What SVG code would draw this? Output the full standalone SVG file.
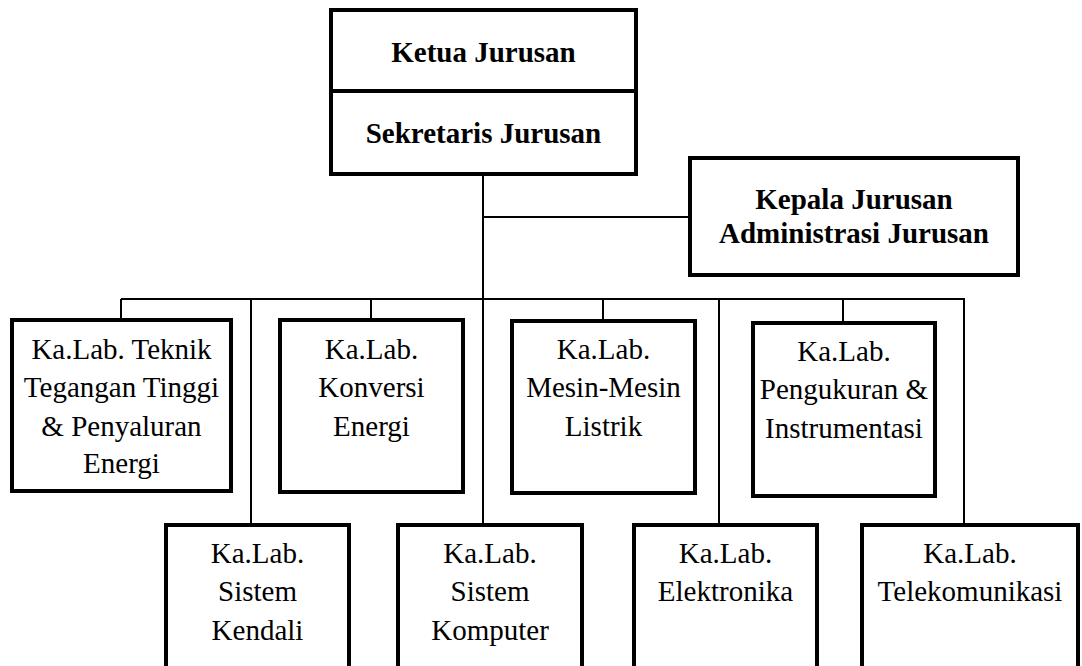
<svg xmlns="http://www.w3.org/2000/svg" width="1082" height="666" viewBox="0 0 1082 666">
<style>
.box{fill:#fff;stroke:#000;stroke-width:4}
.c{fill:none;stroke:#000;stroke-width:2}
.t{font-family:'Liberation Serif',Tinos,'DejaVu Serif',serif;font-size:29px;fill:#000;text-anchor:middle}
.b{font-weight:bold}
</style>
<rect width="1082" height="666" fill="#fff"/>
<g id="connectors">
<line class="c" x1="483" y1="174" x2="483" y2="525"/>
<line class="c" x1="483" y1="217" x2="690" y2="217"/>
<line class="c" x1="121" y1="299" x2="964" y2="299"/>
<line class="c" x1="121" y1="299" x2="121" y2="320"/>
<line class="c" x1="371" y1="299" x2="371" y2="320"/>
<line class="c" x1="603" y1="299" x2="603" y2="321"/>
<line class="c" x1="843" y1="299" x2="843" y2="323"/>
<line class="c" x1="251" y1="299" x2="251" y2="525"/>
<line class="c" x1="719" y1="299" x2="719" y2="525"/>
<line class="c" x1="964" y1="298" x2="964" y2="525"/>
</g>
<g font-family="Liberation Serif, serif">
<g id="ketua">
<rect class="box" x="331" y="10" width="305" height="164"/>
<line class="box" x1="331" y1="91" x2="636" y2="91"/>
<text class="t b" x="483.5" y="62">Ketua Jurusan</text>
<text class="t b" x="483.5" y="143">Sekretaris Jurusan</text>
</g>
<g id="kepala">
<rect class="box" x="690" y="158" width="328" height="117"/>
<text class="t b" x="854" y="209">Kepala Jurusan</text>
<text class="t b" x="854" y="243">Administrasi Jurusan</text>
</g>
<g id="lab-tt">
<rect class="box" x="12" y="320" width="219" height="171"/>
<text class="t" x="121.5" y="359">Ka.Lab. Teknik</text>
<text class="t" x="121.5" y="397">Tegangan Tinggi</text>
<text class="t" x="121.5" y="436">&amp; Penyaluran</text>
<text class="t" x="121.5" y="473">Energi</text>
</g>
<g id="lab-konversi">
<rect class="box" x="280" y="320" width="183" height="172"/>
<text class="t" x="371.5" y="359">Ka.Lab.</text>
<text class="t" x="371.5" y="397">Konversi</text>
<text class="t" x="371.5" y="436">Energi</text>
</g>
<g id="lab-mesin">
<rect class="box" x="512" y="321" width="183" height="172"/>
<text class="t" x="603.5" y="359">Ka.Lab.</text>
<text class="t" x="603.5" y="397">Mesin-Mesin</text>
<text class="t" x="603.5" y="436">Listrik</text>
</g>
<g id="lab-pengukuran">
<rect class="box" x="753" y="323" width="182" height="173"/>
<text class="t" x="844" y="361">Ka.Lab.</text>
<text class="t" x="844" y="399">Pengukuran &amp;</text>
<text class="t" x="844" y="438">Instrumentasi</text>
</g>
<g id="lab-kendali">
<rect class="box" x="166" y="525" width="183" height="200"/>
<text class="t" x="257.5" y="563">Ka.Lab.</text>
<text class="t" x="257.5" y="601">Sistem</text>
<text class="t" x="257.5" y="640">Kendali</text>
</g>
<g id="lab-komputer">
<rect class="box" x="398" y="525" width="184" height="200"/>
<text class="t" x="490" y="563">Ka.Lab.</text>
<text class="t" x="490" y="601">Sistem</text>
<text class="t" x="490" y="640">Komputer</text>
</g>
<g id="lab-elektronika">
<rect class="box" x="634" y="525" width="183" height="200"/>
<text class="t" x="725.5" y="563">Ka.Lab.</text>
<text class="t" x="725.5" y="601">Elektronika</text>
</g>
<g id="lab-telekomunikasi">
<rect class="box" x="862" y="525" width="216" height="200"/>
<text class="t" x="970" y="563">Ka.Lab.</text>
<text class="t" x="970" y="601">Telekomunikasi</text>
</g>
</g>
</svg>
